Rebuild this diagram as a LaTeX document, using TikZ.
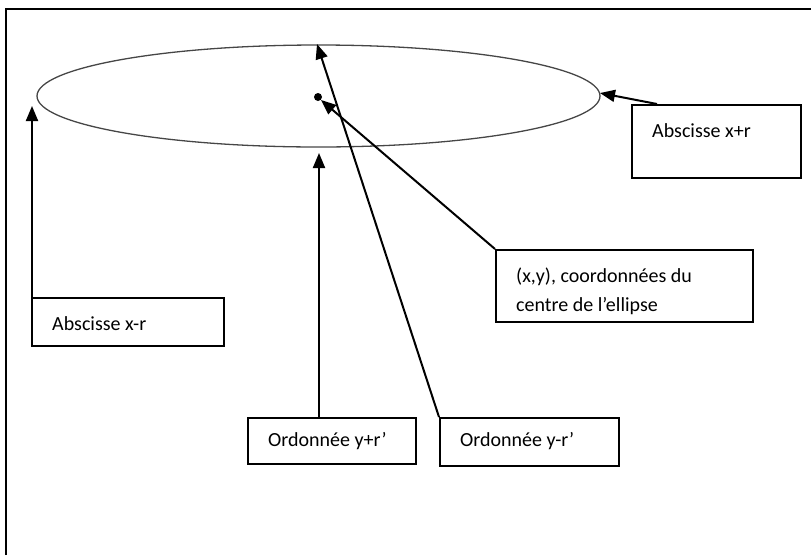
\documentclass[tikz,border=0pt]{standalone}
\usepackage{fontspec}
\setmainfont{Carlito}
\usetikzlibrary{arrows.meta}
\begin{document}
\begin{tikzpicture}[x=1pt,y=-1pt,
  boxnode/.style={draw=black,line width=1.5pt,rectangle,inner sep=0pt,anchor=north west},
  lbl/.style={anchor=base west,inner sep=0pt,font=\fontsize{20}{24}\selectfont},
  arr/.style={line width=2pt,-{Triangle[length=15pt,width=12pt]}},
  ellline/.style={draw={rgb,255:red,70;green,70;blue,70},line width=1.3pt}]
\useasboundingbox (0,0) rectangle (811,555);
% outer frame (left and top edges visible)
\draw[line width=1.5pt] (6,555) -- (6,9) -- (811,9);
% ellipse and centre
\draw[ellline] (318.5,96) ellipse [x radius=281.5, y radius=51];
\node[circle,fill=black,inner sep=0pt,minimum size=8pt] (c) at (318,97) {};
% labels
\node[lbl] (txpr) at (652,137) {Abscisse x+r};
\node[lbl] (tctr1) at (516,282) {(x,y), coordonnées du};
\node[lbl] (tctr2) at (516,311) {centre de l’ellipse};
\node[lbl] (txmr) at (52,330) {Abscisse x-r};
\node[lbl] (typr) at (268,446) {Ordonnée y+r’};
\node[lbl] (tymr) at (460,446) {Ordonnée y-r’};
% boxes
\node[boxnode,minimum width=169pt,minimum height=73pt] (xpr) at (631,104) {};
\node[boxnode,minimum width=257pt,minimum height=72pt] (ctr) at (495,249) {};
\node[boxnode,minimum width=192pt,minimum height=48pt] (xmr) at (31,297) {};
\node[boxnode,minimum width=168pt,minimum height=46pt] (ypr) at (247,417) {};
\node[boxnode,minimum width=179pt,minimum height=48pt] (ymr) at (439,417) {};
% arrow ends
\coordinate (eR) at (600,93);
\coordinate (eL) at (32,106);
\coordinate (eB) at (319,153);
\coordinate (eT) at (317,44);
\coordinate (sXpr) at (657,104);
\coordinate (sXmr) at (32,297);
\coordinate (sYpr) at (319,417);
% arrows
\draw[arr] (sXpr) -- (eR);
\draw[arr] (sXmr) -- (eL);
\draw[arr] (sYpr) -- (eB);
\draw[arr] (ymr.north west) -- (eT);
\draw[arr] (ctr.north west) -- (c.south east);
\end{tikzpicture}
\end{document}
